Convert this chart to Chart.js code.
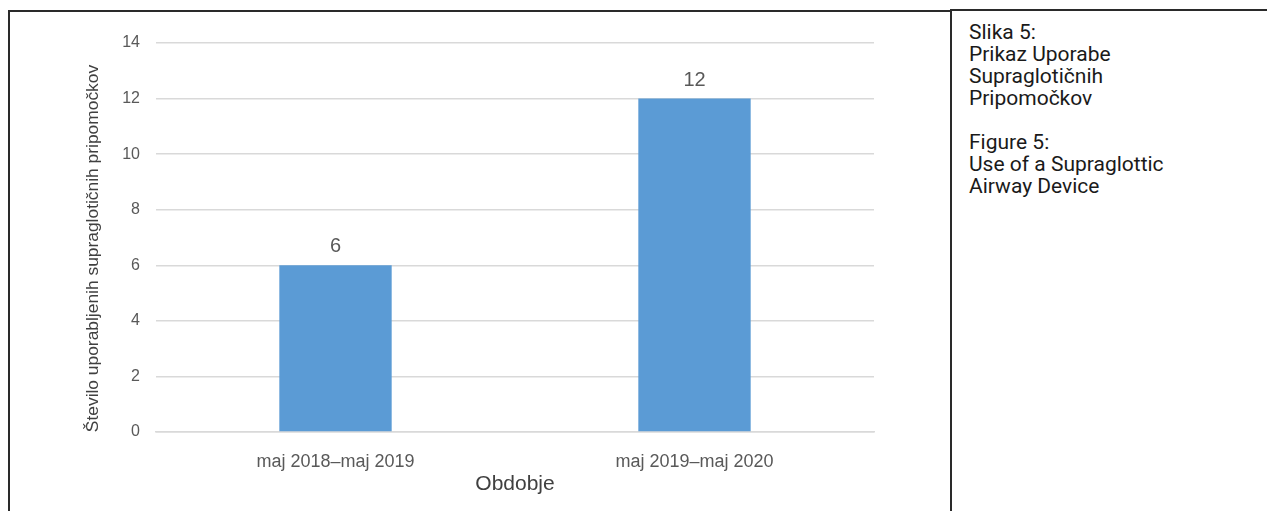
<!DOCTYPE html>
<html>
<head>
<meta charset="utf-8">
<script src="https://cdn.jsdelivr.net/npm/chart.js@4.4.0/dist/chart.umd.min.js"></script>
<style>
  html, body { margin: 0; padding: 0; background: #fff; }
  body { width: 1267px; height: 511px; position: relative; overflow: hidden; }
  #wrap { position: absolute; left: 0; top: 0; width: 948px; height: 511px; }
  .line { position: absolute; background: #2a2a2a; }
  #caption { position: absolute; left: 969px; top: 21px; font-family: Roboto, "DejaVu Sans", sans-serif;
             font-size: 21px; line-height: 22px; color: #1a1a1a; white-space: pre; }
</style>
</head>
<body>
<div id="wrap"><canvas id="c" width="948" height="511"></canvas></div>
<div class="line" style="left:8px; top:10px; width:943px; height:1.5px;"></div>
<div class="line" style="left:950px; top:9px; width:317px; height:1.5px;"></div>
<div class="line" style="left:8px; top:10px; width:1.5px; height:501px;"></div>
<div class="line" style="left:950px; top:9px; width:1.5px; height:502px;"></div>
<div id="caption"></div>
<script>
const categories = ["maj 2018–maj 2019", "maj 2019–maj 2020"];
const values = [6, 12];
const yTicks = [0, 2, 4, 6, 8, 10, 12, 14];
const xTitle = "Obdobje";
const yTitle = "Število uporabljenih supraglotičnih pripomočkov";
const captionLines = ["Slika 5:", "Prikaz Uporabe", "Supraglotičnih", "Pripomočkov", "", "Figure 5:", "Use of a Supraglottic", "Airway Device"];

document.getElementById('caption').textContent = captionLines.join('\n');

const FONT = '"Liberation Sans", Arial, sans-serif';
const TXT = '#595959';

const valueLabels = {
  id: 'valueLabels',
  afterDatasetsDraw(chart) {
    const ctx = chart.ctx;
    const meta = chart.getDatasetMeta(0);
    ctx.save();
    ctx.font = '20px ' + FONT;
    ctx.fillStyle = TXT;
    ctx.textAlign = 'center';
    ctx.textBaseline = 'alphabetic';
    meta.data.forEach((bar, i) => {
      ctx.fillText(String(values[i]), bar.x, bar.y - 13);
    });
    ctx.restore();
  }
};

// y-axis title, drawn rotated next to the axis (slightly below the plot centre, as in the reference)
const yTitlePlugin = {
  id: 'yTitlePlugin',
  afterDraw(chart) {
    const ctx = chart.ctx;
    const area = chart.chartArea;
    ctx.save();
    ctx.font = '17.4px ' + FONT;
    ctx.fillStyle = '#404040';
    ctx.textAlign = 'center';
    ctx.textBaseline = 'middle';
    ctx.translate(93, (area.top + area.bottom) / 2 + 11);
    ctx.rotate(-Math.PI / 2);
    ctx.fillText(yTitle, 0, 0);
    ctx.restore();
  }
};

new Chart(document.getElementById('c'), {
  type: 'bar',
  data: {
    labels: categories,
    datasets: [{
      data: values,
      backgroundColor: '#5b9bd5',
      borderWidth: 0,
      barPercentage: 1,
      categoryPercentage: 0.313
    }]
  },
  options: {
    responsive: false,
    devicePixelRatio: 1,
    animation: false,
    layout: { padding: { left: 0, right: 74, top: 43, bottom: 0 } },
    plugins: { legend: { display: false }, tooltip: { enabled: false } },
    scales: {
      x: {
        grid: { display: false, drawTicks: false },
        border: { display: true, color: '#d9d9d9', width: 1.5 },
        ticks: { color: TXT, font: { family: FONT, size: 18 }, padding: 19, maxRotation: 0 },
        title: { display: true, text: xTitle, color: '#404040', font: { family: FONT, size: 21 }, padding: { top: 0, bottom: 14 } },
        afterFit(s) { s.height = 79; }
      },
      y: {
        min: 0, max: 14,
        afterBuildTicks(s) { s.ticks = yTicks.map(v => ({ value: v })); },
        grid: { color: '#d9d9d9', lineWidth: 1.5, drawTicks: false },
        border: { display: false },
        ticks: { color: TXT, font: { family: FONT, size: 16 }, padding: 16 },
        title: { display: false },
        afterFit(s) { s.width = 156; }
      }
    }
  },
  plugins: [valueLabels, yTitlePlugin]
});
</script>
</body>
</html>
